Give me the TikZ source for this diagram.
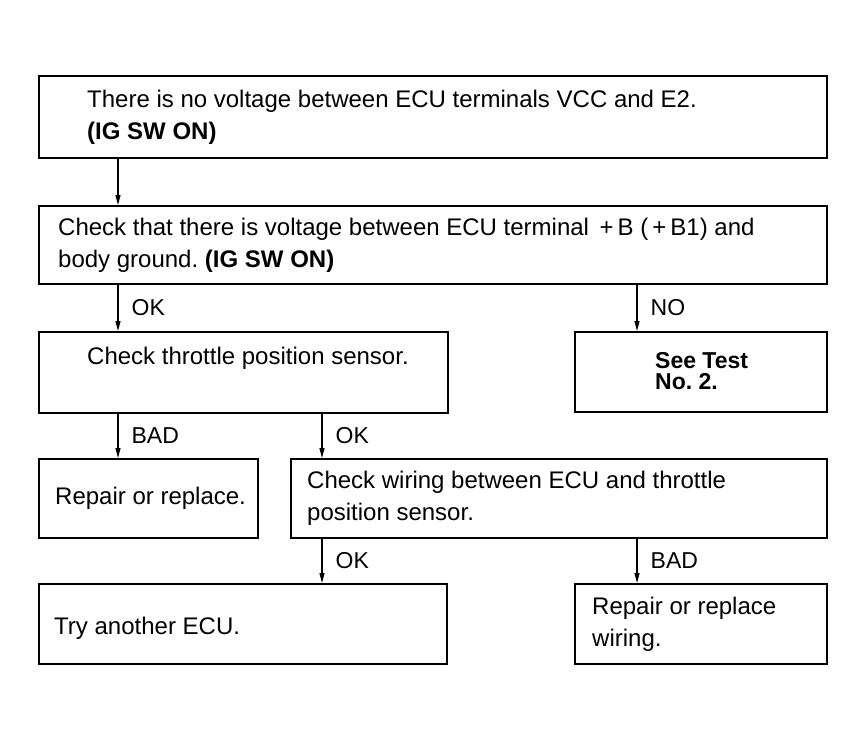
\documentclass[tikz,border=0pt]{standalone}
\usepackage{fontspec}
\setmainfont{Liberation Sans}
\usetikzlibrary{positioning, arrows.meta}
\frenchspacing

\begin{document}
\begin{tikzpicture}[x=1pt, y=-1pt,
		box/.style={draw, line width=1.8pt, anchor=north west, inner sep=0pt},
		txt/.style={inner sep=0pt, align=left, font=\fontsize{24}{32}\selectfont},
		flow/.style={line width=1.3pt, -{Triangle[length=10pt, width=5pt]}},
		lbl/.style={right=13pt, inner sep=0pt, font=\fontsize{23}{26}\selectfont}]
			\useasboundingbox (0,0) rectangle (864,740);
			% boxes
			\node[box, minimum width=788pt, minimum height=82pt] (nv) at (38,75) {};
			\node[box, minimum width=788pt, minimum height=78pt] (chk) at (38,205) {};
			\node[box, minimum width=409pt, minimum height=81pt] (tps) at (38,331) {};
			\node[box, minimum width=252pt, minimum height=80pt] (see) at (574,331) {};
			\node[box, minimum width=219pt, minimum height=79pt] (rep) at (38,458) {};
			\node[box, minimum width=536pt, minimum height=79pt] (wir) at (290,458) {};
			\node[box, minimum width=408pt, minimum height=80pt] (ecu) at (38,583) {};
			\node[box, minimum width=252pt, minimum height=80pt] (repw) at (574,583) {};
			% texts
			\node[txt, right=49pt of nv.west] (nvt) {There is no voltage between ECU terminals VCC and E2.\\\textbf{(IG SW ON)}};
			\node[txt, right=20pt of chk.west] (chkt) {Check that there is voltage between ECU terminal \,+\,B (\,+\,B1) and\\body ground. \textbf{(IG SW ON)}};
			\node[txt, right=49pt of tps.west, yshift=14pt] (tpst) {Check throttle position sensor.};
			\node[txt, right=81pt of see.west, yshift=1pt, font=\fontsize{23}{21}\selectfont\bfseries] (seet) {See Test\\No. 2.};
			\node[txt, right=17pt of rep.west] (rept) {Repair or replace.};
			\node[txt, right=17pt of wir.west] (wirt) {Check wiring between ECU and throttle\\position sensor.};
			\node[txt, right=16pt of ecu.west, yshift=-4pt] (ecut) {Try another ECU.};
			\node[txt, right=18pt of repw.west] (repwt) {Repair or replace\\wiring.};
			% arrows
			\coordinate (c1) at (118,0);
			\coordinate (c2) at (322,0);
			\coordinate (c3) at (637,0);
			\draw[flow] (nv.south -| c1) -- (chk.north -| c1);
			\foreach \from/\to/\col/\lab in {chk/tps/c1/OK, chk/see/c3/NO, tps/rep/c1/BAD, tps/wir/c2/OK, wir/ecu/c2/OK, wir/repw/c3/BAD}
				\draw[flow] (\from.south -| \col) -- node[lbl] {\lab} (\to.north -| \col);
		\end{tikzpicture}
\end{document}
